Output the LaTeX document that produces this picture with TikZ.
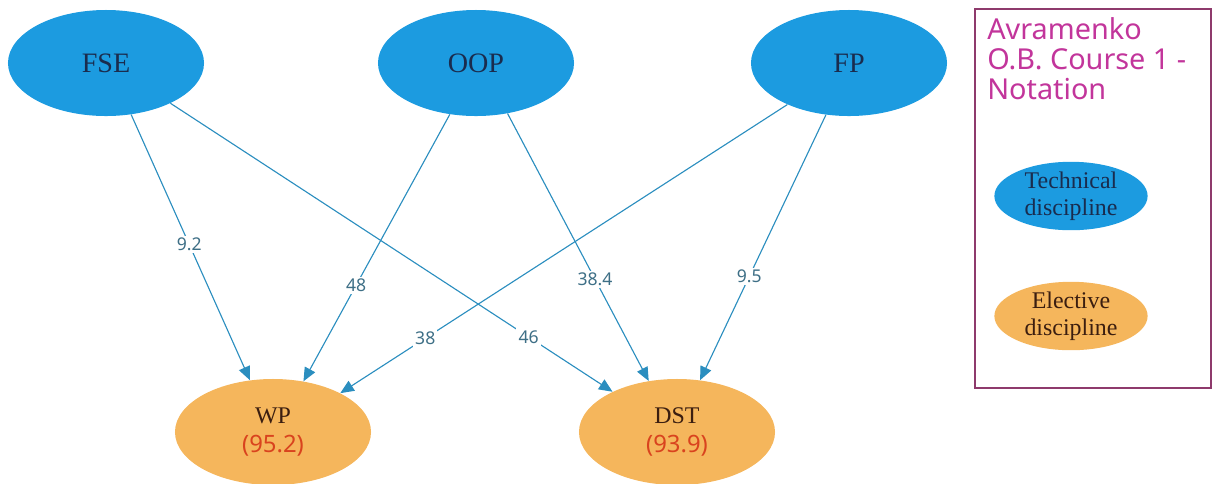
\documentclass[tikz,border=0pt]{standalone}
\usepackage{fontspec}
\setmainfont{Liberation Serif}
\newfontfamily\uisans{Noto Sans}
\usetikzlibrary{arrows.meta,shapes.geometric}
\definecolor{techblue}{HTML}{1C9BE0}
\definecolor{techtext}{HTML}{1A2C4E}
\definecolor{electorange}{HTML}{F5B65C}
\definecolor{electtext}{HTML}{3B1E10}
\definecolor{score}{HTML}{D9431E}
\definecolor{link}{HTML}{2B8EBF}
\definecolor{linktext}{HTML}{3E6F86}
\definecolor{legendedge}{HTML}{8E3A6C}
\definecolor{legendtext}{HTML}{C2359B}
\tikzset{
  tech/.style  ={ellipse, fill=techblue, text=techtext, minimum width=4.9cm,
                 minimum height=2.65cm, inner sep=0pt, align=center,
                 font=\fontsize{20}{22}\selectfont},
  elect/.style ={tech, fill=electorange, text=electtext,
                 font=\fontsize{17}{21}\selectfont},
  % small ellipses of the notation box
  keytech/.style ={tech, minimum width=3.83cm, minimum height=1.68cm,
                   font=\fontsize{17}{19}\selectfont},
  keyelect/.style={keytech, fill=electorange, text=electtext},
  flow/.style  ={-{Triangle[length=3.4mm,width=2.9mm]}, link, line width=0.8pt},
  wt/.style    ={font=\uisans\fontsize{12.5}{12.5}\selectfont, text=linktext,
                 fill=white, inner sep=1.5pt},
  legendbox/.style={draw=legendedge, line width=0.9pt, minimum width=5.9cm,
                    minimum height=9.475cm, inner sep=0pt},
}

\begin{document}
\begin{tikzpicture}[x=0.025cm, y=-0.025cm]
  \useasboundingbox (0,0) rectangle (1213,483);
  \node[tech]  (fse) at (106,63)  {FSE};
  \node[tech]  (oop) at (476,63)  {OOP};
  \node[tech]  (fp)  at (849,63)  {FP};
  \node[elect] (wp)  at (273,432) {WP\\{\uisans\color{score}(95.2)}};
  \node[elect] (dst) at (677,432) {DST\\{\uisans\color{score}(93.9)}};
  \draw[flow] (fse.-64)  -- node[wt, pos=0.49] {9.2}  (wp.114);
  \draw[flow] (fse.-32)  -- node[wt, pos=0.81] {46}   (dst.148);
  \draw[flow] (oop.-117) -- node[wt, pos=0.64] {48}   (wp.59);
  \draw[flow] (oop.-58)  -- node[wt, pos=0.62] {38.4} (dst.119);
  \draw[flow] (fp.-146)  -- node[wt, pos=0.81] {38}   (wp.30);
  \draw[flow] (fp.-114)  -- node[wt, pos=0.61] {9.5}  (dst.66);
  % notation
  \node[legendbox] (legend) at (1093,198.5) {};
  \node[anchor=north west, align=left, inner sep=0pt, text=legendtext,
        font=\uisans\fontsize{20.5}{21.3}\selectfont] (title) at (987,17)
        {Avramenko\\O.B. Course 1 -\\Notation};
  \node[keytech]  (keyt) at (1071,196) {Technical\\discipline};
  \node[keyelect] (keye) at (1071,316) {Elective\\discipline};
\end{tikzpicture}
\end{document}
